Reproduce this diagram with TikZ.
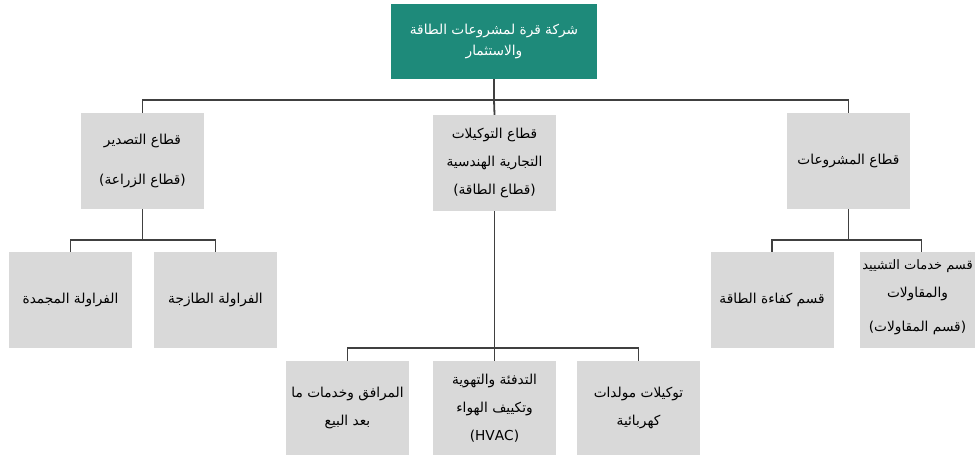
\documentclass[tikz,border=0pt]{standalone}
\usepackage{fontspec}
\setmainfont{DejaVu Sans}
\newfontfamily\arabicfont[Script=Arabic]{DejaVu Sans}
\TeXXeTstate=1
\definecolor{teal1}{HTML}{1E8A7A}
\definecolor{boxgray}{HTML}{D9D9D9}
\definecolor{linegray}{HTML}{404040}
\tikzset{
  gbox/.style={fill=boxgray, minimum width=123pt, minimum height=96pt, align=center, inner sep=0pt,
    font=\arabicfont\fontsize{13.7}{28}\selectfont, text=black},
  cbox/.style={gbox, minimum height=94pt},
  txt/.style={align=center, inner sep=0pt, font=\arabicfont\fontsize{13.7}{28}\selectfont, text=black},
  topbox/.style={fill=teal1, minimum width=206pt, minimum height=75pt, align=center, inner sep=0pt,
    font=\arabicfont\fontsize{13.7}{21}\selectfont, text=white},
  conn/.style={draw=linegray, line width=1.8pt}
}
\begin{document}
\begin{tikzpicture}[x=1pt,y=-1pt]
\useasboundingbox (0,0) rectangle (975,457);
% top
\node[topbox] (top) at (494,41.5) {\beginR شركة قرة لمشروعات الطاقة\endR\\ \beginR والاستثمار\endR};
% sectors
\node[gbox] (s1) at (142.5,161) {\beginR قطاع التصدير\endR\\[12pt] \beginR (قطاع الزراعة)\endR};
\node[gbox] (s2) at (494.5,163) {\beginR قطاع التوكيلات\endR\\ \beginR التجارية الهندسية\endR\\ \beginR (قطاع الطاقة)\endR};
\node[gbox] (s3) at (848.5,161) {\beginR قطاع المشروعات\endR};
% left children
\node[gbox] (c11) at (70.5,300) {\beginR الفراولة المجمدة\endR};
\node[gbox] (c12) at (215.5,300) {\beginR الفراولة الطازجة\endR};
% middle children
\node[cbox] (c21) at (347.5,408) {\beginR المرافق وخدمات ما\endR\\ \beginR بعد البيع\endR};
\node[cbox] (c22) at (494.5,408) {\beginR التدفئة والتهوية\endR\\ \beginR وتكييف الهواء\endR\\ (HVAC)};
\node[cbox] (c23) at (638.5,408) {\beginR توكيلات مولدات\endR\\ \beginR كهربائية\endR};
% right children
\node[gbox] (c31) at (772,300) {\beginR قسم كفاءة الطاقة\endR};
\node[gbox] (c32) at (921.5,300) {};
\node[txt] (c32t) at (917.5,297) {{\fontsize{13}{28}\selectfont\beginR قسم خدمات التشييد\endR}\\[0pt] \beginR والمقاولات\endR\\[6pt] \beginR (قسم المقاولات)\endR};
% connectors
\coordinate (j0) at (494,100);
\coordinate (j1) at (142.5,240);
\coordinate (j2) at (494.5,348);
\coordinate (j3) at (848.5,240);
\draw[conn] (top.south) -- (j0);
\draw[conn] (s1.north) |- (j0) -| (s3.north);
\draw[conn] (j0) -- (s2.north);
\draw[conn] (s1.south) -- (j1);
\draw[conn] (c11.north) |- (j1) -| (c12.north);
\draw[conn] (s2.south) -- (j2);
\draw[conn] (c21.north) |- (j2) -| (c23.north);
\draw[conn] (j2) -- (c22.north);
\draw[conn] (s3.south) -- (j3);
\draw[conn] (c31.north) |- (j3) -| (c32.north);
\end{tikzpicture}
\end{document}
